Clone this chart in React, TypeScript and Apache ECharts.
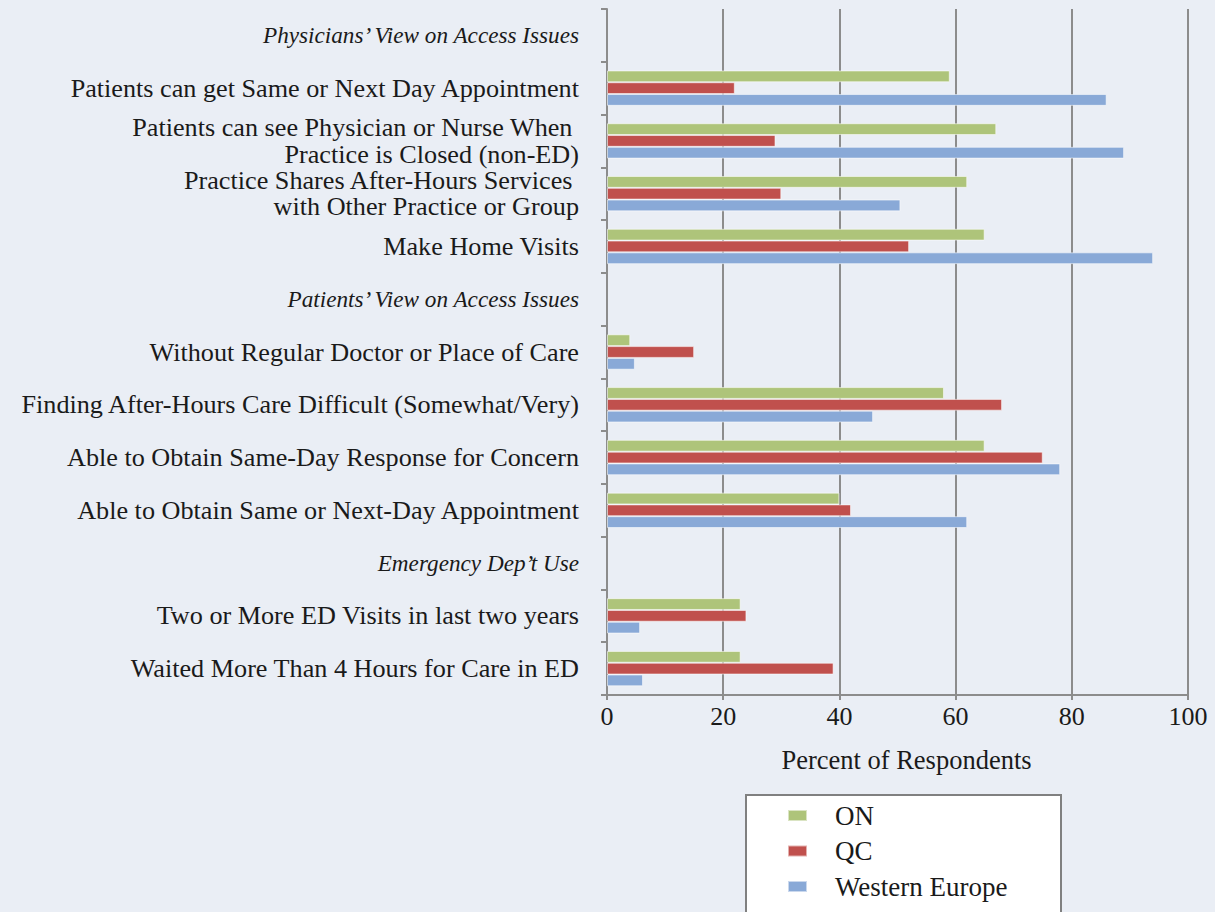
import React, { useEffect, useRef } from "react";
import * as echarts from "echarts";

const categories = [
  "Physicians’ View on Access Issues",
  "Patients can get Same or Next Day Appointment",
  "Patients can see Physician or Nurse When \nPractice is Closed (non-ED)",
  "Practice Shares After-Hours Services \nwith Other Practice or Group",
  "Make Home Visits",
  "Patients’ View on Access Issues",
  "Without Regular Doctor or Place of Care",
  "Finding After-Hours Care Difficult (Somewhat/Very)",
  "Able to Obtain Same-Day Response for Concern",
  "Able to Obtain Same or Next-Day Appointment",
  "Emergency Dep’t Use",
  "Two or More ED Visits in last two years",
  "Waited More Than 4 Hours for Care in ED",
];
const headerCategories = [
  "Physicians’ View on Access Issues",
  "Patients’ View on Access Issues",
  "Emergency Dep’t Use",
];
const seriesNames = ["ON", "QC", "Western Europe"];
const onValues = [null, 59, 67, 62, 65, null, 4, 58, 65, 40, null, 23, 23];
const qcValues = [null, 22, 29, 30, 52, null, 15, 68, 75, 42, null, 24, 39];
const weValues = [null, 86, 89, 50.5, 94, null, 4.8, 45.8, 78, 62, null, 5.7, 6.2];
const xMin = 0;
const xMax = 100;
const xInterval = 20;
const axisTitle = "Percent of Respondents";

const colors = ["#AEC47A", "#C0504D", "#89A9D7"];
const FONT = "'Liberation Serif', 'DejaVu Serif', serif";

export default function App() {
  const ref = useRef<HTMLDivElement>(null);
  useEffect(() => {
    if (!ref.current) return;
    const chart = echarts.init(ref.current, null, { renderer: "svg" });
    const allValues = [onValues, qcValues, weValues];
    chart.setOption({
      animation: false,
      backgroundColor: "#EAEEF5",
      textStyle: { fontFamily: FONT },
      grid: { left: 607, right: 27, top: 9, bottom: 217, containLabel: false },
      xAxis: {
        type: "value",
        min: xMin,
        max: xMax,
        interval: xInterval,
        name: axisTitle,
        nameLocation: "middle",
        nameGap: 51,
        nameTextStyle: {
          fontFamily: FONT,
          fontSize: 26.5,
          color: "#1a1a1a",
          padding: [0, 0, 0, 18],
        },
        axisLine: { show: true, lineStyle: { color: "#8C8C8C", width: 2 } },
        axisTick: { show: true, length: 5, lineStyle: { color: "#8C8C8C", width: 2 } },
        axisLabel: { fontFamily: FONT, fontSize: 26, color: "#1a1a1a", margin: 8 },
        splitLine: { show: true, lineStyle: { color: "#8C8C8C", width: 2 } },
      },
      yAxis: {
        type: "category",
        inverse: true,
        data: categories,
        axisLine: { show: true, lineStyle: { color: "#8C8C8C", width: 2 } },
        axisTick: { show: true, length: 6, lineStyle: { color: "#8C8C8C", width: 2 } },
        axisLabel: {
          margin: 28,
          fontFamily: FONT,
          fontSize: 26.2,
          lineHeight: 26.2,
          color: "#1a1a1a",
          align: "right",
          formatter: (v: string) =>
            headerCategories.includes(v) ? `{h|${v}}` : v,
          rich: {
            h: { fontFamily: FONT, fontSize: 23.2, fontStyle: "italic", color: "#1a1a1a" },
          },
        },
      },
      legend: {
        orient: "vertical",
        left: 787,
        top: 802,
        itemWidth: 19,
        itemHeight: 11,
        itemGap: 8.5,
        icon: "rect",
        padding: 0,
        textStyle: {
          fontFamily: FONT,
          fontSize: 27,
          lineHeight: 27,
          color: "#1a1a1a",
          padding: [0, 0, 0, 23],
        },
        data: seriesNames,
      },
      graphic: [
        {
          type: "rect",
          left: 745,
          top: 794,
          z: -1,
          shape: { width: 315, height: 130 },
          style: { fill: "#FFFFFF", stroke: "#808080", lineWidth: 2 },
        },
      ],
      series: seriesNames.map((name, i) => ({
        name,
        type: "bar",
        data: allValues[i],
        barGap: "0%",
        barCategoryGap: "33%",
        itemStyle: {
          color: colors[i],
          borderColor: "rgba(255,255,255,0.55)",
          borderWidth: 1,
        },
      })),
    });
    return () => chart.dispose();
  }, []);
  return (
    <div
      ref={ref}
      style={{ position: "fixed", left: 0, top: 0, width: 1215, height: 912 }}
    />
  );
}
